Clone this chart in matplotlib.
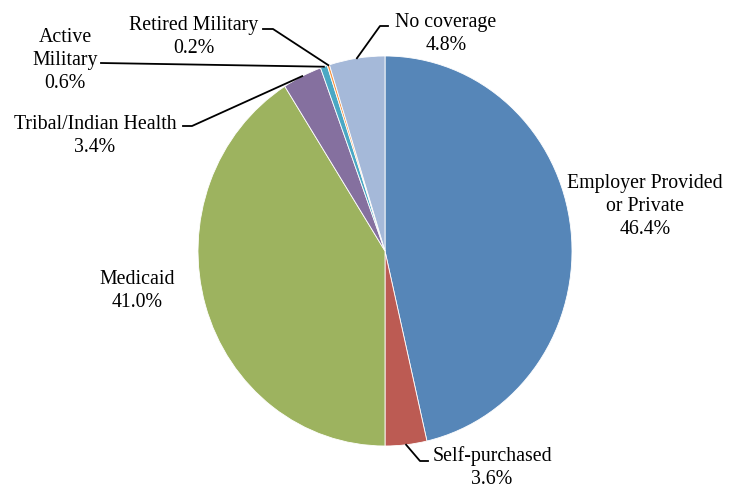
import numpy as np
import matplotlib.pyplot as plt

# health coverage shares (percent), clockwise from 12 o'clock
categories = ['Employer Provided\nor Private', 'Self-purchased', 'Medicaid',
              'Tribal/Indian Health', 'Active\nMilitary', 'Retired Military',
              'No coverage']
values = [46.4, 3.6, 41.0, 3.4, 0.6, 0.2, 4.8]
colors = ['#5686B8', '#BC5B53', '#9DB35F', '#85709F', '#4AA8C4', '#F79646', '#A5B9D9']

W, H = 729, 489
fig = plt.figure(figsize=(W / 100, H / 100), dpi=100)
# axes box in pixels (left, top, right, bottom)
l, t, r, b = 198, 57, 572, 447
ax = fig.add_axes([l / W, 1 - b / H, (r - l) / W, (b - t) / H])
ax.pie(values, colors=colors, startangle=90, counterclock=False,
       wedgeprops=dict(edgecolor='white', linewidth=0.6))
ax.set_aspect('auto')
ax.set_xlim(-1, 1)
ax.set_ylim(-1, 1)

font = dict(family='Liberation Serif', fontsize=14.3, color='black',
            ha='center', va='baseline', linespacing=1.27)

# label centre x / last baseline y (pixels from top-left) and leader bends
label_pos = {
    0: (645, 234),
    1: (492, 484),
    2: (137, 307),
    3: (95, 152),
    4: (65, 88),
    5: (194, 53),
    6: (446, 50),
}
leaders = {
    1: [(420, 462), (428, 462)],
    3: [(192, 127), (183, 127)],
    4: [(101, 64)],
    5: [(273, 30), (263, 30)],
    6: [(380, 27), (388, 27)],
}

fig.canvas.draw()
cum = np.cumsum([0] + values[:-1])
for i, (cat, v) in enumerate(zip(categories, values)):
    x, y = label_pos[i]
    fig.text(x / W, 1 - y / H, '%s\n%.1f%%' % (cat, v), **font)
    if i in leaders:
        # anchor on the wedge edge at its middle angle
        ang = np.deg2rad(90 - 360 * (cum[i] + v / 2) / 100)
        ax_pt = ax.transData.transform((np.cos(ang), np.sin(ang)))
        pts = [(ax_pt[0], ax_pt[1])] + [(px, H - py) for px, py in leaders[i]]
        xs = [p[0] / W for p in pts]
        ys = [p[1] / H for p in pts]
        fig.add_artist(plt.Line2D(xs, ys, color='black', linewidth=1.3,
                                  transform=fig.transFigure))

fig.savefig('out.png', dpi=100)
